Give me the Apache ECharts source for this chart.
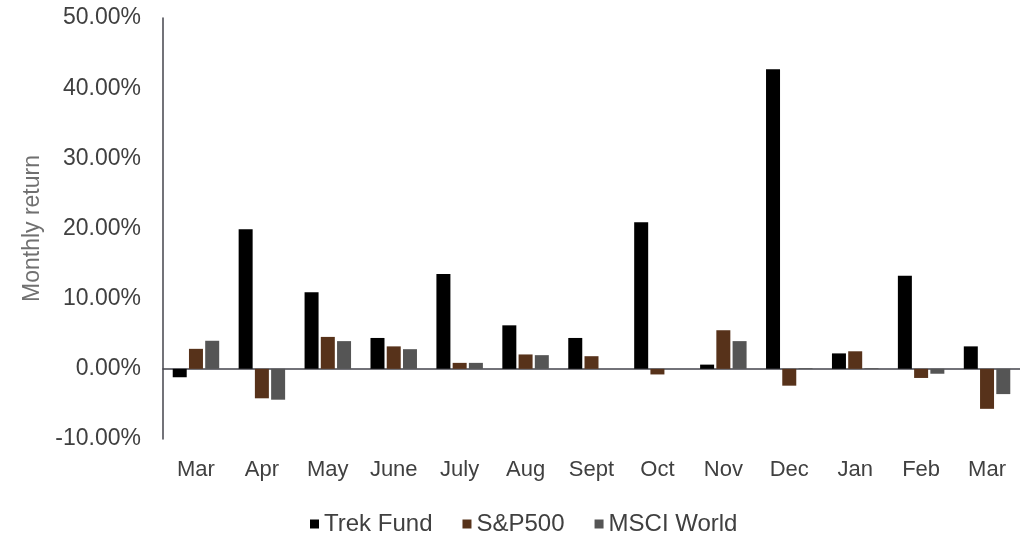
<!DOCTYPE html>
<html>
<head>
<meta charset="utf-8">
<script src="https://cdn.jsdelivr.net/npm/echarts@6/dist/echarts.min.js"></script>
<style>html,body{margin:0;padding:0;background:#fff}#c{width:1020px;height:534px}</style>
</head>
<body>
<div id="c"></div>
<script>
const categories = ['Mar','Apr','May','June','July','Aug','Sept','Oct','Nov','Dec','Jan','Feb','Mar'];
const trekFund = [-1.2, 19.9, 10.9, 4.4, 13.5, 6.2, 4.4, 20.9, 0.6, 42.7, 2.2, 13.25, 3.2];
const sp500    = [2.85, -4.2, 4.55, 3.2, 0.85, 2.05, 1.8, -0.8, 5.5, -2.4, 2.5, -1.3, -5.7];
const msciWorld= [4.0, -4.4, 3.95, 2.8, 0.85, 1.95, 0, 0, 3.95, 0.1, 0.1, -0.7, -3.6];
const yTicks = { min: -10, max: 50, interval: 10 };

const font = 'Liberation Sans, Arial, sans-serif';
const chart = echarts.init(document.getElementById('c'));
function s(name, data, color) {
  return { name, type: 'bar', data, barWidth: 14, barGap: '16%', itemStyle: { color }, xAxisIndex: 0 };
}
chart.setOption({
  animation: false,
  textStyle: { fontFamily: font },
  grid: { left: 163, right: 0, top: 18, bottom: 95, containLabel: false },
  legend: {
    top: 507, left: 305, itemWidth: 9, itemHeight: 9, itemGap: 30, icon: 'rect',
    textStyle: { fontSize: 24, color: '#404040', fontFamily: font },
    data: ['Trek Fund', 'S&P500', 'MSCI World']
  },
  xAxis: [
    { type: 'category', data: categories, position: 'bottom',
      axisLine: { show: false, onZero: false }, axisTick: { show: false },
      axisLabel: { fontSize: 22, color: '#404040', margin: 20, fontFamily: font } },
    { type: 'category', data: categories, position: 'bottom',
      axisLine: { show: true, onZero: true, lineStyle: { color: '#44444c', width: 1.5 } },
      axisTick: { show: false }, axisLabel: { show: false } }
  ],
  yAxis: {
    type: 'value', min: yTicks.min, max: yTicks.max, interval: yTicks.interval,
    name: 'Monthly return', nameLocation: 'middle', nameGap: 118,
    nameTextStyle: { fontSize: 23, color: '#707070', fontFamily: font },
    axisLine: { show: true, lineStyle: { color: '#44444c', width: 1.5 } },
    axisTick: { show: false }, splitLine: { show: false },
    axisLabel: { fontSize: 23, color: '#404040', margin: 22, fontFamily: font,
      formatter: v => v.toFixed(2) + '%' }
  },
  series: [
    s('Trek Fund', trekFund, '#000000'),
    s('S&P500', sp500, '#57321a'),
    s('MSCI World', msciWorld, '#555555')
  ]
});
</script>
</body>
</html>
